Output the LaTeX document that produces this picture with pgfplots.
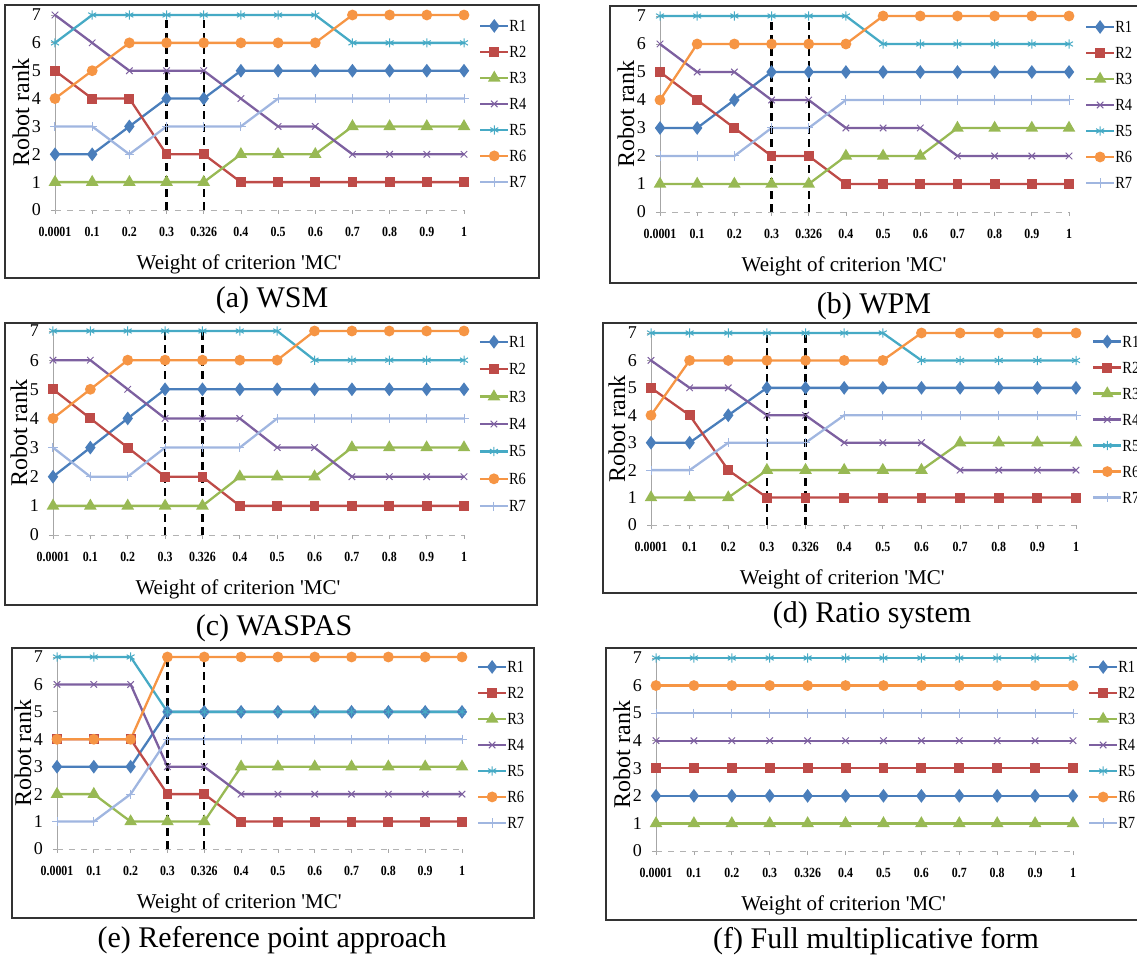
\documentclass[border=0pt]{standalone}
\usepackage{fontspec}
\setmainfont{Liberation Serif}
\newfontfamily\tickfont[FakeStretch=0.85]{Liberation Serif}
\newfontfamily\legfont[FakeStretch=0.85]{Liberation Serif}
\usepackage{pgfplots}
\usepackage{pgfplotstable}
\pgfplotsset{compat=1.18}

\definecolor{c1}{HTML}{4A7EBB}
\definecolor{c2}{HTML}{BE4B48}
\definecolor{c3}{HTML}{98B954}
\definecolor{c4}{HTML}{7D60A0}
\definecolor{c5}{HTML}{46AAC5}
\definecolor{c6}{HTML}{F69544}
\definecolor{c7}{HTML}{A0B6E0}

% x: 0=0.0001,1=0.1,2=0.2,3=0.3,4=0.326,5=0.4,...,11=1
\pgfplotstableread{
x r1 r2 r3 r4 r5 r6 r7
0 2 5 1 7 6 4 3
1 2 4 1 6 7 5 3
2 3 4 1 5 7 6 2
3 4 2 1 5 7 6 3
4 4 2 1 5 7 6 3
5 5 1 2 4 7 6 3
6 5 1 2 3 7 6 4
7 5 1 2 3 7 6 4
8 5 1 3 2 6 7 4
9 5 1 3 2 6 7 4
10 5 1 3 2 6 7 4
11 5 1 3 2 6 7 4
}\wsm
\pgfplotstableread{
x r1 r2 r3 r4 r5 r6 r7
0 3 5 1 6 7 4 2
1 3 4 1 5 7 6 2
2 4 3 1 5 7 6 2
3 5 2 1 4 7 6 3
4 5 2 1 4 7 6 3
5 5 1 2 3 7 6 4
6 5 1 2 3 6 7 4
7 5 1 2 3 6 7 4
8 5 1 3 2 6 7 4
9 5 1 3 2 6 7 4
10 5 1 3 2 6 7 4
11 5 1 3 2 6 7 4
}\wpm
\pgfplotstableread{
x r1 r2 r3 r4 r5 r6 r7
0 2 5 1 6 7 4 3
1 3 4 1 6 7 5 2
2 4 3 1 5 7 6 2
3 5 2 1 4 7 6 3
4 5 2 1 4 7 6 3
5 5 1 2 4 7 6 3
6 5 1 2 3 7 6 4
7 5 1 2 3 6 7 4
8 5 1 3 2 6 7 4
9 5 1 3 2 6 7 4
10 5 1 3 2 6 7 4
11 5 1 3 2 6 7 4
}\waspas
\pgfplotstableread{
x r1 r2 r3 r4 r5 r6 r7
0 3 5 1 6 7 4 2
1 3 4 1 5 7 6 2
2 4 2 1 5 7 6 3
3 5 1 2 4 7 6 3
4 5 1 2 4 7 6 3
5 5 1 2 3 7 6 4
6 5 1 2 3 7 6 4
7 5 1 2 3 6 7 4
8 5 1 3 2 6 7 4
9 5 1 3 2 6 7 4
10 5 1 3 2 6 7 4
11 5 1 3 2 6 7 4
}\ratio
\pgfplotstableread{
x r1 r2 r3 r4 r5 r6 r7
0 3 4 2 6 7 4 1
1 3 4 2 6 7 4 1
2 3 4 1 6 7 4 2
3 5 2 1 3 5 7 4
4 5 2 1 3 5 7 4
5 5 1 3 2 5 7 4
6 5 1 3 2 5 7 4
7 5 1 3 2 5 7 4
8 5 1 3 2 5 7 4
9 5 1 3 2 5 7 4
10 5 1 3 2 5 7 4
11 5 1 3 2 5 7 4
}\refpt
\pgfplotstableread{
x r1 r2 r3 r4 r5 r6 r7
0 2 3 1 4 7 6 5
1 2 3 1 4 7 6 5
2 2 3 1 4 7 6 5
3 2 3 1 4 7 6 5
4 2 3 1 4 7 6 5
5 2 3 1 4 7 6 5
6 2 3 1 4 7 6 5
7 2 3 1 4 7 6 5
8 2 3 1 4 7 6 5
9 2 3 1 4 7 6 5
10 2 3 1 4 7 6 5
11 2 3 1 4 7 6 5
}\fmf

\pgfplotsset{
  panel/.style={
    scale only axis, xmin=0, xmax=11, ymin=0, ymax=7, clip=false,
    axis x line*=bottom, axis y line*=left,
    x axis line style={gray!60, dashed, -},
    y axis line style={gray!70, -},
    xtick={0,1,2,3,4,5,6,7,8,9,10,11},
    xticklabels={0.0001,0.1,0.2,0.3,0.326,0.4,0.5,0.6,0.7,0.8,0.9,1},
    ytick={0,1,2,3,4,5,6,7},
    yticklabels={0,1,2,3,4,5,6,7},
    tick align=outside, major tick length=2pt, tick style={gray!70, thin},
    xticklabel style={font=\tickfont\bfseries\fontsize{7}{8}\selectfont, yshift=-3pt},
    yticklabel style={font=\fontsize{9}{10}\selectfont, xshift=-1.5pt},
    xlabel={Weight of criterion \textquotesingle MC\textquotesingle},
    ylabel={Robot rank},
    every axis x label/.style={at={(axis description cs:0.45,0)}, anchor=center, yshift=-27pt, font=\fontsize{10.5}{12}\selectfont},
    every axis y label/.style={at={(axis description cs:0,0.5)}, xshift=-17pt, rotate=90, anchor=center, font=\fontsize{12}{14}\selectfont},
    legend style={draw=none, fill=none, anchor=west, font=\legfont\fontsize{8.5}{9}\selectfont,
      inner sep=0pt, outer sep=0pt, row sep=7.5pt,
      nodes={inner sep=0pt, text height=5.5pt, text depth=0pt},
      /tikz/every even column/.append style={column sep=1pt}},
    legend cell align=left,
    legend image code/.code={\draw[mark repeat=2,mark phase=2] plot coordinates {(0pt,0pt)(7pt,0pt)(14pt,0pt)};},
  },
  r1/.style={color=c1, line width=1.15pt, mark=diamond*, mark size=2.5pt, mark options={solid}},
  r2/.style={color=c2, line width=1.15pt, mark=square*, mark size=1.9pt, mark options={solid}},
  r3/.style={color=c3, line width=1.15pt, mark=triangle*, mark size=2.5pt, mark options={solid}},
  r4/.style={color=c4, line width=1.15pt, mark=x, mark size=2.3pt, mark options={solid, line width=0.5pt}},
  r5/.style={color=c5, line width=1.15pt, mark=asterisk, mark size=2.3pt, mark options={solid, line width=0.5pt}},
  r6/.style={color=c6, line width=1.15pt, mark=*, mark size=2.1pt, mark options={solid}},
  r7/.style={color=c7, line width=1.15pt, mark=+, mark size=2.3pt, mark options={solid, line width=0.5pt}},
  vdash/.style={black, line width=1.2pt, dash pattern=on 4pt off 2.5pt, forget plot},
}

\newcommand{\series}[1]{%
  \addplot[r1] table[x=x,y=r1] {#1};
  \addplot[r2] table[x=x,y=r2] {#1};
  \addplot[r3] table[x=x,y=r3] {#1};
  \addplot[r4] table[x=x,y=r4] {#1};
  \addplot[r5] table[x=x,y=r5] {#1};
  \addplot[r6] table[x=x,y=r6] {#1};
  \addplot[r7] table[x=x,y=r7] {#1};
  \legend{R1,R2,R3,R4,R5,R6,R7}
}

\begin{document}
\begin{tikzpicture}
\path[use as bounding box] (0pt,0pt) rectangle (568.5pt,480pt);

% frames
\draw[line width=1.2pt, black!80] (2.5pt,477.5pt) rectangle (269.5pt,341pt);
\draw[line width=1.2pt, black!80] (305pt,477pt) rectangle (580pt,338.5pt);
\draw[line width=1.2pt, black!80] (2.5pt,318.5pt) rectangle (268.5pt,177.5pt);
\draw[line width=1.2pt, black!80] (301.5pt,318.5pt) rectangle (580pt,183.5pt);
\draw[line width=1.2pt, black!80] (6pt,156pt) rectangle (267pt,21pt);
\draw[line width=1.2pt, black!80] (303pt,156pt) rectangle (580pt,20pt);

% (a) WSM
\begin{axis}[panel, at={(27.5pt,375pt)}, anchor=south west, width=204.5pt, height=97.5pt,
  legend style={at={(1.037,0.544)}}]
\series{\wsm}
\addplot[vdash] coordinates {(3,0) (3,7)};
\addplot[vdash] coordinates {(4,0) (4,7)};
\end{axis}

% (b) WPM
\begin{axis}[panel, at={(330pt,374pt)}, anchor=south west, width=204.5pt, height=98pt,
  legend style={at={(1.039,0.546)}}]
\series{\wpm}
\addplot[vdash] coordinates {(3,0) (3,7)};
\addplot[vdash] coordinates {(4,0) (4,7)};
\end{axis}

% (c) WASPAS
\begin{axis}[panel, at={(26.5pt,212.5pt)}, anchor=south west, width=205.5pt, height=102pt,
  legend style={at={(1.036,0.544)}, row sep=8.2pt}]
\series{\waspas}
\addplot[vdash] coordinates {(3,0) (3,7)};
\addplot[vdash] coordinates {(4,0) (4,7)};
\end{axis}

% (d) Ratio system
\begin{axis}[panel, at={(325.5pt,217.5pt)}, anchor=south west, width=212.5pt, height=96pt,
  legend style={at={(1.038,0.549)}}]
\series{\ratio}
\addplot[vdash] coordinates {(3,0) (3,7)};
\addplot[vdash] coordinates {(4,0) (4,7)};
\end{axis}

% (e) Reference point approach
\begin{axis}[panel, at={(28.5pt,55.5pt)}, anchor=south west, width=202.5pt, height=96pt,
  legend style={at={(1.037,0.542)}}]
\series{\refpt}
\addplot[vdash] coordinates {(3,0) (3,7)};
\addplot[vdash] coordinates {(4,0) (4,7)};
\end{axis}

% (f) Full multiplicative form
\begin{axis}[panel, at={(328pt,54.5pt)}, anchor=south west, width=208.5pt, height=96.5pt,
  legend style={at={(1.036,0.549)}}]
\series{\fmf}
\end{axis}

% captions
\tikzset{captxt/.style={font=\fontsize{15}{17}\selectfont}}
\node[captxt] at (136pt,330pt) {(a) WSM};
\node[captxt] at (437pt,327pt) {(b) WPM};
\node[captxt] at (137pt,166pt) {(c) WASPAS};
\node[captxt] at (436pt,172.5pt) {(d) Ratio system};
\node[captxt] at (136pt,10pt) {(e) Reference point approach};
\node[captxt] at (438pt,9.5pt) {(f) Full multiplicative form};
\end{tikzpicture}
\end{document}
